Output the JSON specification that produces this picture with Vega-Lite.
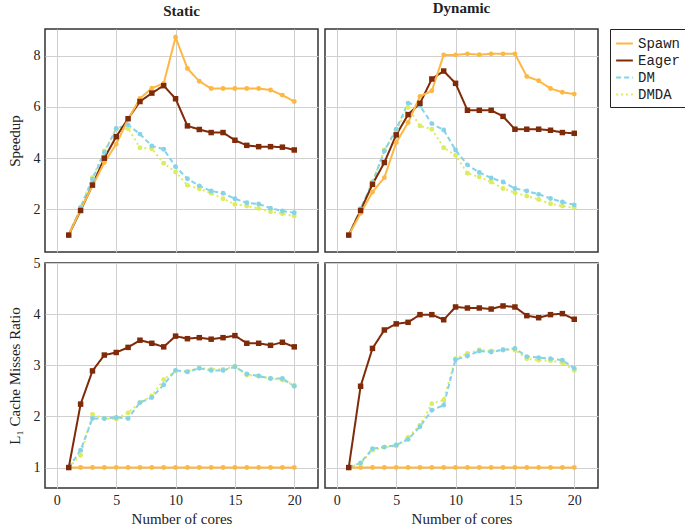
{
  "$schema": "https://vega.github.io/schema/vega-lite/v6.json",
  "autosize": {"type": "pad"},
  "padding": {"left": 6, "top": 0, "right": 0, "bottom": 0},
  "background": "white",
  "config": {
    "font": "Liberation Serif",
    "view": {"stroke": "#333", "strokeWidth": 1.5},
    "axis": {"grid": true, "gridColor": "#d0d0d0", "gridWidth": 1, "domain": false, "ticks": false, "labelFont": "Liberation Serif", "labelFontSize": 14, "labelColor": "#222", "titleFont": "Liberation Serif", "titleFontSize": 15, "titleFontWeight": "normal", "titleColor": "#222"},
    "title": {"font": "Liberation Serif", "fontSize": 15, "fontWeight": "bold", "color": "#222"},
    "legend": {"labelFont": "Liberation Mono", "labelFontSize": 14, "labelColor": "#222"}
  },
  "data": {"values": [
    {"cores":1,"policy":"Static","metric":"speedup","Spawn":1,"Eager":1,"DM":1,"DMDA":1},
    {"cores":2,"policy":"Static","metric":"speedup","Spawn":2.0,"Eager":1.96,"DM":2.07,"DMDA":2.09},
    {"cores":3,"policy":"Static","metric":"speedup","Spawn":2.92,"Eager":2.95,"DM":3.18,"DMDA":3.24},
    {"cores":4,"policy":"Static","metric":"speedup","Spawn":3.83,"Eager":4.0,"DM":4.22,"DMDA":4.28},
    {"cores":5,"policy":"Static","metric":"speedup","Spawn":4.55,"Eager":4.84,"DM":5.16,"DMDA":5.13},
    {"cores":6,"policy":"Static","metric":"speedup","Spawn":5.52,"Eager":5.54,"DM":5.3,"DMDA":5.16},
    {"cores":7,"policy":"Static","metric":"speedup","Spawn":6.33,"Eager":6.21,"DM":4.94,"DMDA":4.41},
    {"cores":8,"policy":"Static","metric":"speedup","Spawn":6.73,"Eager":6.54,"DM":4.48,"DMDA":4.37},
    {"cores":9,"policy":"Static","metric":"speedup","Spawn":6.92,"Eager":6.83,"DM":4.35,"DMDA":3.8},
    {"cores":10,"policy":"Static","metric":"speedup","Spawn":8.72,"Eager":6.32,"DM":3.67,"DMDA":3.46},
    {"cores":11,"policy":"Static","metric":"speedup","Spawn":7.5,"Eager":5.26,"DM":3.2,"DMDA":2.94},
    {"cores":12,"policy":"Static","metric":"speedup","Spawn":7.0,"Eager":5.12,"DM":2.92,"DMDA":2.81},
    {"cores":13,"policy":"Static","metric":"speedup","Spawn":6.72,"Eager":5.0,"DM":2.72,"DMDA":2.63},
    {"cores":14,"policy":"Static","metric":"speedup","Spawn":6.72,"Eager":5.0,"DM":2.63,"DMDA":2.42},
    {"cores":15,"policy":"Static","metric":"speedup","Spawn":6.72,"Eager":4.7,"DM":2.42,"DMDA":2.2},
    {"cores":16,"policy":"Static","metric":"speedup","Spawn":6.72,"Eager":4.5,"DM":2.26,"DMDA":2.13},
    {"cores":17,"policy":"Static","metric":"speedup","Spawn":6.72,"Eager":4.45,"DM":2.21,"DMDA":2.04},
    {"cores":18,"policy":"Static","metric":"speedup","Spawn":6.66,"Eager":4.45,"DM":2.05,"DMDA":1.91},
    {"cores":19,"policy":"Static","metric":"speedup","Spawn":6.46,"Eager":4.43,"DM":1.94,"DMDA":1.83},
    {"cores":20,"policy":"Static","metric":"speedup","Spawn":6.21,"Eager":4.32,"DM":1.87,"DMDA":1.74},
    {"cores":1,"policy":"Dynamic","metric":"speedup","Spawn":1,"Eager":1,"DM":1,"DMDA":1},
    {"cores":2,"policy":"Dynamic","metric":"speedup","Spawn":1.85,"Eager":1.96,"DM":2.03,"DMDA":2.0},
    {"cores":3,"policy":"Dynamic","metric":"speedup","Spawn":2.68,"Eager":2.98,"DM":3.05,"DMDA":3.07},
    {"cores":4,"policy":"Dynamic","metric":"speedup","Spawn":3.24,"Eager":3.83,"DM":4.28,"DMDA":4.32},
    {"cores":5,"policy":"Dynamic","metric":"speedup","Spawn":4.61,"Eager":4.91,"DM":5.13,"DMDA":5.1},
    {"cores":6,"policy":"Dynamic","metric":"speedup","Spawn":5.39,"Eager":5.7,"DM":6.15,"DMDA":5.98},
    {"cores":7,"policy":"Dynamic","metric":"speedup","Spawn":6.41,"Eager":6.14,"DM":6.04,"DMDA":5.26},
    {"cores":8,"policy":"Dynamic","metric":"speedup","Spawn":6.63,"Eager":7.09,"DM":5.35,"DMDA":5.13},
    {"cores":9,"policy":"Dynamic","metric":"speedup","Spawn":8.03,"Eager":7.4,"DM":5.1,"DMDA":4.41},
    {"cores":10,"policy":"Dynamic","metric":"speedup","Spawn":8.03,"Eager":6.92,"DM":4.32,"DMDA":4.11},
    {"cores":11,"policy":"Dynamic","metric":"speedup","Spawn":8.07,"Eager":5.87,"DM":3.74,"DMDA":3.41},
    {"cores":12,"policy":"Dynamic","metric":"speedup","Spawn":8.04,"Eager":5.87,"DM":3.44,"DMDA":3.27},
    {"cores":13,"policy":"Dynamic","metric":"speedup","Spawn":8.07,"Eager":5.87,"DM":3.23,"DMDA":3.07},
    {"cores":14,"policy":"Dynamic","metric":"speedup","Spawn":8.07,"Eager":5.63,"DM":3.07,"DMDA":2.82},
    {"cores":15,"policy":"Dynamic","metric":"speedup","Spawn":8.07,"Eager":5.13,"DM":2.82,"DMDA":2.65},
    {"cores":16,"policy":"Dynamic","metric":"speedup","Spawn":7.19,"Eager":5.13,"DM":2.72,"DMDA":2.52},
    {"cores":17,"policy":"Dynamic","metric":"speedup","Spawn":7.02,"Eager":5.13,"DM":2.59,"DMDA":2.39},
    {"cores":18,"policy":"Dynamic","metric":"speedup","Spawn":6.72,"Eager":5.09,"DM":2.43,"DMDA":2.22},
    {"cores":19,"policy":"Dynamic","metric":"speedup","Spawn":6.57,"Eager":5.0,"DM":2.29,"DMDA":2.13},
    {"cores":20,"policy":"Dynamic","metric":"speedup","Spawn":6.5,"Eager":4.97,"DM":2.18,"DMDA":2.07},
    {"cores":1,"policy":"Static","metric":"cache","Spawn":1,"Eager":1,"DM":1,"DMDA":1},
    {"cores":2,"policy":"Static","metric":"cache","Spawn":1,"Eager":2.24,"DM":1.34,"DMDA":1.24},
    {"cores":3,"policy":"Static","metric":"cache","Spawn":1,"Eager":2.89,"DM":1.96,"DMDA":2.04},
    {"cores":4,"policy":"Static","metric":"cache","Spawn":1,"Eager":3.2,"DM":1.96,"DMDA":1.96},
    {"cores":5,"policy":"Static","metric":"cache","Spawn":1,"Eager":3.25,"DM":1.98,"DMDA":1.95},
    {"cores":6,"policy":"Static","metric":"cache","Spawn":1,"Eager":3.35,"DM":1.96,"DMDA":2.07},
    {"cores":7,"policy":"Static","metric":"cache","Spawn":1,"Eager":3.49,"DM":2.27,"DMDA":2.27},
    {"cores":8,"policy":"Static","metric":"cache","Spawn":1,"Eager":3.43,"DM":2.37,"DMDA":2.4},
    {"cores":9,"policy":"Static","metric":"cache","Spawn":1,"Eager":3.36,"DM":2.62,"DMDA":2.72},
    {"cores":10,"policy":"Static","metric":"cache","Spawn":1,"Eager":3.57,"DM":2.9,"DMDA":2.89},
    {"cores":11,"policy":"Static","metric":"cache","Spawn":1,"Eager":3.52,"DM":2.87,"DMDA":2.88},
    {"cores":12,"policy":"Static","metric":"cache","Spawn":1,"Eager":3.54,"DM":2.94,"DMDA":2.95},
    {"cores":13,"policy":"Static","metric":"cache","Spawn":1,"Eager":3.51,"DM":2.9,"DMDA":2.92},
    {"cores":14,"policy":"Static","metric":"cache","Spawn":1,"Eager":3.54,"DM":2.9,"DMDA":2.92},
    {"cores":15,"policy":"Static","metric":"cache","Spawn":1,"Eager":3.58,"DM":2.97,"DMDA":2.98},
    {"cores":16,"policy":"Static","metric":"cache","Spawn":1,"Eager":3.43,"DM":2.83,"DMDA":2.81},
    {"cores":17,"policy":"Static","metric":"cache","Spawn":1,"Eager":3.43,"DM":2.79,"DMDA":2.79},
    {"cores":18,"policy":"Static","metric":"cache","Spawn":1,"Eager":3.39,"DM":2.74,"DMDA":2.74},
    {"cores":19,"policy":"Static","metric":"cache","Spawn":1,"Eager":3.45,"DM":2.74,"DMDA":2.71},
    {"cores":20,"policy":"Static","metric":"cache","Spawn":1,"Eager":3.36,"DM":2.59,"DMDA":2.61},
    {"cores":1,"policy":"Dynamic","metric":"cache","Spawn":1,"Eager":1,"DM":1,"DMDA":1},
    {"cores":2,"policy":"Dynamic","metric":"cache","Spawn":1,"Eager":2.59,"DM":1.09,"DMDA":1.08},
    {"cores":3,"policy":"Dynamic","metric":"cache","Spawn":1,"Eager":3.33,"DM":1.37,"DMDA":1.34},
    {"cores":4,"policy":"Dynamic","metric":"cache","Spawn":1,"Eager":3.69,"DM":1.4,"DMDA":1.4},
    {"cores":5,"policy":"Dynamic","metric":"cache","Spawn":1,"Eager":3.81,"DM":1.44,"DMDA":1.42},
    {"cores":6,"policy":"Dynamic","metric":"cache","Spawn":1,"Eager":3.84,"DM":1.55,"DMDA":1.59},
    {"cores":7,"policy":"Dynamic","metric":"cache","Spawn":1,"Eager":3.99,"DM":1.8,"DMDA":1.83},
    {"cores":8,"policy":"Dynamic","metric":"cache","Spawn":1,"Eager":3.99,"DM":2.12,"DMDA":2.25},
    {"cores":9,"policy":"Dynamic","metric":"cache","Spawn":1,"Eager":3.89,"DM":2.22,"DMDA":2.32},
    {"cores":10,"policy":"Dynamic","metric":"cache","Spawn":1,"Eager":4.14,"DM":3.11,"DMDA":3.13},
    {"cores":11,"policy":"Dynamic","metric":"cache","Spawn":1,"Eager":4.12,"DM":3.18,"DMDA":3.23},
    {"cores":12,"policy":"Dynamic","metric":"cache","Spawn":1,"Eager":4.12,"DM":3.28,"DMDA":3.3},
    {"cores":13,"policy":"Dynamic","metric":"cache","Spawn":1,"Eager":4.1,"DM":3.26,"DMDA":3.28},
    {"cores":14,"policy":"Dynamic","metric":"cache","Spawn":1,"Eager":4.16,"DM":3.3,"DMDA":3.31},
    {"cores":15,"policy":"Dynamic","metric":"cache","Spawn":1,"Eager":4.14,"DM":3.33,"DMDA":3.3},
    {"cores":16,"policy":"Dynamic","metric":"cache","Spawn":1,"Eager":3.97,"DM":3.17,"DMDA":3.13},
    {"cores":17,"policy":"Dynamic","metric":"cache","Spawn":1,"Eager":3.93,"DM":3.15,"DMDA":3.1},
    {"cores":18,"policy":"Dynamic","metric":"cache","Spawn":1,"Eager":3.99,"DM":3.13,"DMDA":3.09},
    {"cores":19,"policy":"Dynamic","metric":"cache","Spawn":1,"Eager":4.01,"DM":3.1,"DMDA":3.05},
    {"cores":20,"policy":"Dynamic","metric":"cache","Spawn":1,"Eager":3.9,"DM":2.94,"DMDA":2.9}
  ]},
  "transform": [{"fold": ["DMDA", "DM", "Eager", "Spawn"], "as": ["series", "value"]}],
  "bounds": "flush",
  "columns": 2,
  "spacing": {"row": 11, "column": 7},
  "concat": [
    {
      "width": 273, "height": 223,
      "title": {"text": "Static", "offset": 10},
      "transform": [{"filter": "datum.policy === 'Static' && datum.metric === 'speedup'"}],
      "encoding": {
        "x": {"field": "cores", "type": "quantitative", "scale": {"domain": [-1, 22], "nice": false, "zero": false}, "axis": {"values": [0, 5, 10, 15, 20], "labels": false, "title": null}},
        "y": {"field": "value", "type": "quantitative", "scale": {"domain": [0.34, 9.04], "nice": false, "zero": false}, "axis": {"values": [2, 4, 6, 8], "title": "Speedup", "labelPadding": 5, "titlePadding": 11}},
        "order": {"field": "series", "sort": "descending"}
      },
      "layer": [
        {"mark": {"type": "line", "strokeWidth": 2}, "encoding": {
          "color": {"field": "series", "type": "nominal", "scale": {"domain": ["Spawn", "Eager", "DM", "DMDA"], "range": ["#FDB844", "#7F2A08", "#84D3E8", "#DDEB5E"]}, "legend": {"title": null, "orient": "right", "offset": 11, "strokeColor": "#222", "padding": 5, "rowPadding": 0, "symbolType": "stroke", "symbolSize": 280, "symbolStrokeWidth": 2, "labelOffset": 4, "fillColor": "white"}},
          "strokeDash": {"field": "series", "type": "nominal", "scale": {"domain": ["Spawn", "Eager", "DM", "DMDA"], "range": [[1, 0], [1, 0], [5, 3], [2, 3]]}, "legend": {"title": null, "orient": "right", "offset": 11, "strokeColor": "#222", "padding": 5, "rowPadding": 0, "symbolType": "stroke", "symbolSize": 280, "symbolStrokeWidth": 2, "labelOffset": 4, "fillColor": "white"}}
        }},
        {"transform": [{"filter": "datum.series !== 'Eager'"}], "mark": {"type": "point", "shape": "circle", "filled": true, "opacity": 1, "size": 24}, "encoding": {"color": {"field": "series", "type": "nominal", "legend": null}}},
        {"transform": [{"filter": "datum.series === 'Eager'"}], "mark": {"type": "point", "shape": "square", "filled": true, "opacity": 1, "size": 30}, "encoding": {"color": {"field": "series", "type": "nominal", "legend": null}}}
      ]
    },
    {
      "width": 273, "height": 223,
      "title": {"text": "Dynamic", "offset": 13},
      "transform": [{"filter": "datum.policy === 'Dynamic' && datum.metric === 'speedup'"}],
      "encoding": {
        "x": {"field": "cores", "type": "quantitative", "scale": {"domain": [-1, 22], "nice": false, "zero": false}, "axis": {"values": [0, 5, 10, 15, 20], "labels": false, "title": null}},
        "y": {"field": "value", "type": "quantitative", "scale": {"domain": [0.34, 9.04], "nice": false, "zero": false}, "axis": {"values": [2, 4, 6, 8], "labels": false, "title": null}},
        "order": {"field": "series", "sort": "descending"}
      },
      "layer": [
        {"mark": {"type": "line", "strokeWidth": 2}, "encoding": {
          "color": {"field": "series", "type": "nominal"},
          "strokeDash": {"field": "series", "type": "nominal"}
        }},
        {"transform": [{"filter": "datum.series !== 'Eager'"}], "mark": {"type": "point", "shape": "circle", "filled": true, "opacity": 1, "size": 24}, "encoding": {"color": {"field": "series", "type": "nominal", "legend": null}}},
        {"transform": [{"filter": "datum.series === 'Eager'"}], "mark": {"type": "point", "shape": "square", "filled": true, "opacity": 1, "size": 30}, "encoding": {"color": {"field": "series", "type": "nominal", "legend": null}}}
      ]
    },
    {
      "width": 273, "height": 225,
      "transform": [{"filter": "datum.policy === 'Static' && datum.metric === 'cache'"}],
      "encoding": {
        "x": {"field": "cores", "type": "quantitative", "scale": {"domain": [-1, 22], "nice": false, "zero": false}, "axis": {"values": [0, 5, 10, 15, 20], "title": "Number of cores", "labelPadding": 5, "titlePadding": 4}},
        "y": {"field": "value", "type": "quantitative", "scale": {"domain": [0.6, 5.0], "nice": false, "zero": false}, "axis": {"values": [1, 2, 3, 4, 5], "title": "L₁ Cache Misses Ratio", "labelPadding": 5, "titlePadding": 11}},
        "order": {"field": "series", "sort": "descending"}
      },
      "layer": [
        {"mark": {"type": "line", "strokeWidth": 2}, "encoding": {
          "color": {"field": "series", "type": "nominal"},
          "strokeDash": {"field": "series", "type": "nominal"}
        }},
        {"transform": [{"filter": "datum.series !== 'Eager'"}], "mark": {"type": "point", "shape": "circle", "filled": true, "opacity": 1, "size": 24}, "encoding": {"color": {"field": "series", "type": "nominal", "legend": null}}},
        {"transform": [{"filter": "datum.series === 'Eager'"}], "mark": {"type": "point", "shape": "square", "filled": true, "opacity": 1, "size": 30}, "encoding": {"color": {"field": "series", "type": "nominal", "legend": null}}}
      ]
    },
    {
      "width": 273, "height": 225,
      "transform": [{"filter": "datum.policy === 'Dynamic' && datum.metric === 'cache'"}],
      "encoding": {
        "x": {"field": "cores", "type": "quantitative", "scale": {"domain": [-1, 22], "nice": false, "zero": false}, "axis": {"values": [0, 5, 10, 15, 20], "title": "Number of cores", "labelPadding": 5, "titlePadding": 4}},
        "y": {"field": "value", "type": "quantitative", "scale": {"domain": [0.6, 5.0], "nice": false, "zero": false}, "axis": {"values": [1, 2, 3, 4, 5], "labels": false, "title": null}},
        "order": {"field": "series", "sort": "descending"}
      },
      "layer": [
        {"mark": {"type": "line", "strokeWidth": 2}, "encoding": {
          "color": {"field": "series", "type": "nominal"},
          "strokeDash": {"field": "series", "type": "nominal"}
        }},
        {"transform": [{"filter": "datum.series !== 'Eager'"}], "mark": {"type": "point", "shape": "circle", "filled": true, "opacity": 1, "size": 24}, "encoding": {"color": {"field": "series", "type": "nominal", "legend": null}}},
        {"transform": [{"filter": "datum.series === 'Eager'"}], "mark": {"type": "point", "shape": "square", "filled": true, "opacity": 1, "size": 30}, "encoding": {"color": {"field": "series", "type": "nominal", "legend": null}}}
      ]
    }
  ]
}
